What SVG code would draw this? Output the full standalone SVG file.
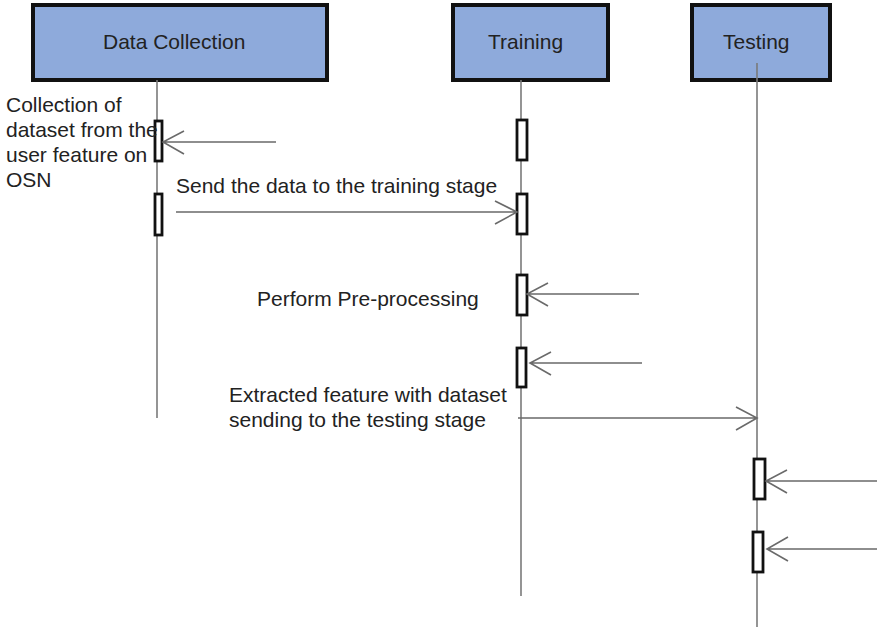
<svg xmlns="http://www.w3.org/2000/svg" width="877" height="627" viewBox="0 0 877 627">
<style>
.head{fill:#8eaadb;stroke:#111;stroke-width:4}
.life{stroke:#7a7a7a;stroke-width:1.6;fill:none}
.act{fill:#fff;stroke:#111;stroke-width:2.8}
.msg{stroke:#6a6a6a;stroke-width:1.6;fill:none}
text{font-family:"Liberation Sans",Arial,sans-serif;font-size:21px;fill:#222}
</style>
<rect width="877" height="627" fill="#fff"/>
<g id="data-collection">
<rect class="head" x="33" y="5" width="294" height="75"/>
<text x="103" y="49">Data Collection</text>
<line class="life" x1="157" y1="80" x2="157" y2="418"/>
<rect class="act" x="155" y="121" width="7" height="40"/>
<rect class="act" x="155" y="194" width="7" height="41"/>
</g>
<g id="training">
<rect class="head" x="453" y="5" width="155" height="75"/>
<text x="488" y="49">Training</text>
<line class="life" x1="521" y1="80" x2="521" y2="596"/>
<rect class="act" x="517" y="120" width="10" height="40"/>
<rect class="act" x="517" y="194" width="10" height="40"/>
<rect class="act" x="517" y="275" width="10" height="40"/>
<rect class="act" x="517" y="348" width="9" height="39"/>
</g>
<g id="testing">
<rect class="head" x="692" y="5" width="138" height="75"/>
<text x="723" y="49">Testing</text>
<line class="life" x1="757" y1="63" x2="757" y2="627"/>
<rect class="act" x="754" y="459" width="11" height="40"/>
<rect class="act" x="753" y="532" width="10" height="40"/>
</g>
<g id="connectors">
<path class="msg" d="M276 142H163M184 131L163 142L184 154"/>
<path class="msg" d="M176 212H517M495 201L517 212L495 224"/>
<path class="msg" d="M639 294H527M548 283L527 294L548 306"/>
<path class="msg" d="M642 363H530M551 352L530 363L551 375"/>
<path class="msg" d="M518 418H757M736 407L757 418L736 430"/>
<path class="msg" d="M877 481H766M787 470L766 481L787 493"/>
<path class="msg" d="M877 549H767M788 537L767 549L788 561"/>
</g>
<g id="labels">
<text x="6" y="112">Collection of</text>
<text x="6" y="137">dataset from the</text>
<text x="6" y="162">user feature on</text>
<text x="6" y="187">OSN</text>
<text x="176" y="193">Send the data to the training stage</text>
<text x="257" y="306">Perform Pre-processing</text>
<text x="229" y="402">Extracted feature with dataset</text>
<text x="229" y="427">sending to the testing stage</text>
</g>
</svg>
